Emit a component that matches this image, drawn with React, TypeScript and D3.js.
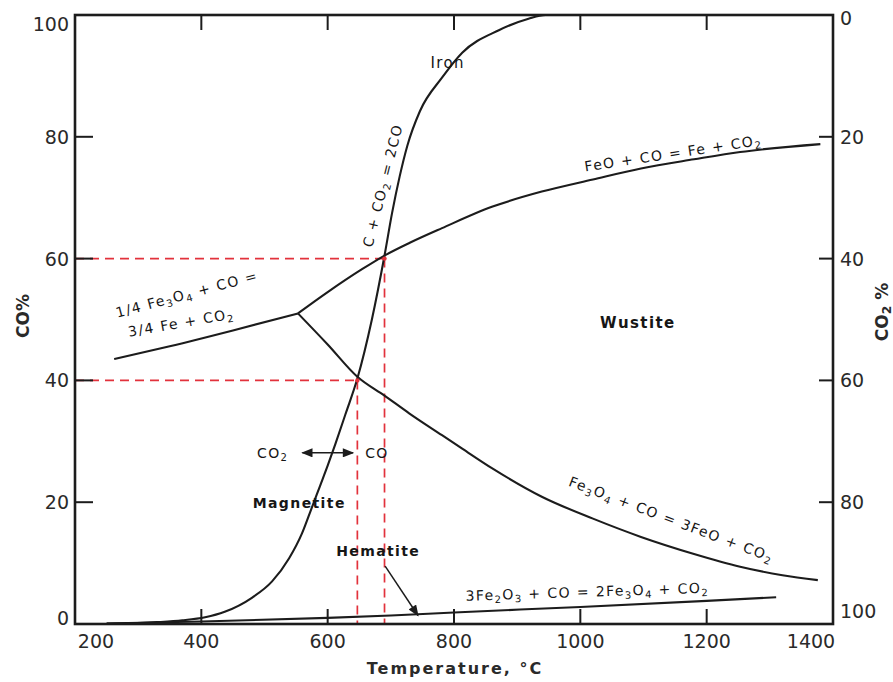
import React from "react";
import * as d3 from "d3";

// Temperature (°C) ticks and CO / CO2 percent ticks
const tempTicks = [200, 400, 600, 800, 1000, 1200, 1400];
const coTicks = [0, 20, 40, 60, 80, 100];
const co2Ticks = [0, 20, 40, 60, 80, 100];

// boundary curves, [temperature, CO %]
const boudouard: [number, number][] = [
  [255, 0], [330, 0.3], [370, 0.6], [406, 1.1], [437, 2.0], [480, 4.3], [512, 7.0], [539, 10.8],
  [559, 14.8], [572, 18.3], [588, 22.7], [600, 26], [612, 29.5], [628, 34.4], [647, 40.3], [670, 50],
  [690, 60.5], [702, 67.5], [714, 73.5], [726, 78.5], [746, 84.2], [781, 89.7], [813, 93.8],
  [871, 97.5], [918, 99.4], [945, 100], [1000, 100],
];
const feoToFe: [number, number][] = [
  [553, 51], [600, 54.5], [655, 58.3], [690, 60.5], [730, 62.6], [781, 65], [860, 68.5],
  [939, 71], [1020, 73], [1096, 74.8], [1180, 76.3], [1253, 77.5], [1380, 78.8],
];
const fe3o4ToFe: [number, number][] = [
  [262, 43.5], [350, 45.6], [450, 48.2], [553, 51],
];
const fe3o4ToFeo: [number, number][] = [
  [553, 51], [600, 45.9], [647, 40.6], [690, 37.5], [729, 34.6], [781, 31], [813, 28.8],
  [860, 25.6], [939, 20.9], [1020, 17.3], [1096, 14.3], [1180, 11.5], [1253, 9.4], [1320, 8], [1376, 7.2],
];
const fe2o3ToFe3o4: [number, number][] = [
  [250, 0.1], [400, 0.4], [600, 1], [700, 1.4], [800, 1.9], [1000, 2.8], [1200, 3.8], [1310, 4.4],
];

// red reference points read on the Boudouard curve
const refPoints = [
  { t: 647, co: 40 },
  { t: 690, co: 60 },
];

// text annotations (position in data units, rotation in degrees)
const notes = [
  { text: "Iron", t: 790, co: 92.2, rot: 0, size: 15, bold: false },
  { text: "C + CO_2 = 2CO", t: 687, co: 72, rot: -76, size: 14, bold: false },
  { text: "FeO + CO = Fe + CO_2", t: 1147, co: 77.3, rot: -8.6, size: 14, bold: false },
  { text: "1/4 Fe_3O_4 + CO =", t: 377, co: 54.2, rot: -15, size: 14, bold: false },
  { text: "3/4 Fe + CO_2", t: 368, co: 49.5, rot: -10, size: 14, bold: false },
  { text: "Wustite", t: 1091, co: 49.4, rot: 0, size: 15, bold: true },
  { text: "CO_2", t: 513, co: 28.1, rot: 0, size: 14, bold: false },
  { text: "CO", t: 678, co: 28.1, rot: 0, size: 14, bold: false },
  { text: "Magnetite", t: 555, co: 19.9, rot: 0, size: 14, bold: true },
  { text: "Hematite", t: 680, co: 12, rot: 0, size: 14, bold: true },
  { text: "Fe_3O_4 + CO = 3FeO + CO_2", t: 1144, co: 17.2, rot: 20.7, size: 14, bold: false },
  { text: "3Fe_2O_3 + CO = 2Fe_3O_4 + CO_2", t: 1011, co: 5.3, rot: -1.9, size: 14, bold: false },
];

const W = 893;
const H = 682;
const ink = "#1c1c1c";
const red = "#e2323c";

const chem = (s: string, fs: number) => {
  const parts = s.split(/_(\d)/);
  const out: React.ReactNode[] = [];
  let shifted = false;
  parts.forEach((p, i) => {
    if (i % 2 === 1) {
      out.push(
        <tspan key={i} dy={fs * 0.3} fontSize={fs * 0.72}>
          {p}
        </tspan>
      );
      shifted = true;
    } else if (p) {
      out.push(
        <tspan key={i} dy={shifted ? -fs * 0.3 : 0}>
          {p}
        </tspan>
      );
      shifted = false;
    }
  });
  return out;
};

const App = () => {
  const x = d3.scaleLinear().domain([200, 1400]).range([75, 833]);
  const y = d3.scaleLinear().domain([0, 100]).range([624, 15]);
  const y2 = d3.scaleLinear().domain([0, 100]).range([15, 624]);

  const line = d3
    .line<[number, number]>()
    .x((d) => x(d[0]))
    .y((d) => y(d[1]))
    .curve(d3.curveMonotoneX);

  const curves = [boudouard, feoToFe, fe3o4ToFe, fe3o4ToFeo, fe2o3ToFe3o4];

  const [x0, x1] = x.range();
  const [yb, yt] = y.range();

  return (
    <svg
      width={W}
      height={H}
      style={{ position: "absolute", left: 0, top: 0, background: "#fff" }}
      fontFamily="DejaVu Sans, sans-serif"
    >
      <defs>
        <marker id="arr" viewBox="0 0 10 8" refX="9" refY="4" markerWidth="8" markerHeight="6" orient="auto-start-reverse">
          <path d="M0,0 L10,4 L0,8 z" fill={ink} />
        </marker>
      </defs>

      {/* red reference lines */}
      {refPoints.map((p, i) => (
        <g key={i} stroke={red} strokeWidth={1.7} strokeDasharray="9 6" fill="none">
          <line x1={x0} x2={x(p.t)} y1={y(p.co)} y2={y(p.co)} />
          <line x1={x(p.t)} x2={x(p.t)} y1={y(p.co)} y2={yb} />
        </g>
      ))}

      {/* curves */}
      {curves.map((c, i) => (
        <path key={i} d={line(c) || ""} fill="none" stroke={ink} strokeWidth={2.1} />
      ))}
      {refPoints.map((p, i) => (
        <circle key={i} cx={x(p.t)} cy={y(p.co)} r={2.2} fill={red} />
      ))}

      {/* frame */}
      <rect x={x0} y={yt} width={x1 - x0} height={yb - yt} fill="none" stroke={ink} strokeWidth={2.6} />

      {/* ticks */}
      {tempTicks.slice(1, -1).map((t) => (
        <g key={t} stroke={ink} strokeWidth={2}>
          <line x1={x(t)} x2={x(t)} y1={yb} y2={yb - 15} />
          <line x1={x(t)} x2={x(t)} y1={yt} y2={yt + 15} />
        </g>
      ))}
      {coTicks.slice(1, -1).map((v) => (
        <line key={v} x1={x0} x2={x0 + 18} y1={y(v)} y2={y(v)} stroke={ink} strokeWidth={2} />
      ))}
      {co2Ticks.slice(1, -1).map((v) => (
        <line key={v} x1={x1} x2={x1 - 14} y1={y2(v)} y2={y2(v)} stroke={ink} strokeWidth={2} />
      ))}

      {/* tick labels */}
      <g fontSize={19} fill="#2a2a2a">
        {tempTicks.map((t, i) => (
          <text
            key={t}
            x={x(t) + (i === 0 ? 21 : i === tempTicks.length - 1 ? -22 : 0)}
            y={648}
            textAnchor="middle"
          >
            {t}
          </text>
        ))}
        {coTicks.map((v, i) => (
          <text
            key={v}
            x={69}
            y={y(v) + (i === 0 ? -6 : i === coTicks.length - 1 ? 9 : 0)}
            textAnchor="end"
            dominantBaseline="central"
          >
            {v}
          </text>
        ))}
        {co2Ticks.map((v, i) => (
          <text
            key={v}
            x={840}
            y={y2(v) + (i === 0 ? 3 : i === co2Ticks.length - 1 ? -13 : 0)}
            textAnchor="start"
            dominantBaseline="central"
          >
            {v}
          </text>
        ))}
      </g>

      {/* axis titles */}
      <text
        transform="translate(23,316) rotate(-90)"
        textAnchor="middle"
        dominantBaseline="central"
        fontSize={17}
        fontWeight="bold"
        fill="#2a2a2a"
      >
        CO%
      </text>
      <text
        transform="translate(882,312) rotate(-90)"
        textAnchor="middle"
        dominantBaseline="central"
        fontSize={17}
        fontWeight="bold"
        fill="#2a2a2a"
      >
        {chem("CO_2 %", 17)}
      </text>
      <text x={455} y={674} textAnchor="middle" fontSize={16} fontWeight="bold" letterSpacing={2} fill="#2a2a2a">
        Temperature, °C
      </text>

      {/* annotations */}
      {notes.map((n, i) => (
        <text
          key={i}
          transform={`translate(${x(n.t)},${y(n.co)}) rotate(${n.rot})`}
          textAnchor="middle"
          dominantBaseline="central"
          fontSize={n.size}
          fontWeight={n.bold ? "bold" : "normal"}
          letterSpacing={1.4}
          fill="#161616"
        >
          {chem(n.text, n.size)}
        </text>
      ))}

      {/* CO2 <-> CO arrow */}
      <line
        x1={x(560)}
        x2={x(640)}
        y1={y(28.1)}
        y2={y(28.1)}
        stroke={ink}
        strokeWidth={1.5}
        markerStart="url(#arr)"
        markerEnd="url(#arr)"
      />
      {/* hematite pointer */}
      <line
        x1={x(691)}
        y1={y(9.5)}
        x2={x(743)}
        y2={y(1.4)}
        stroke={ink}
        strokeWidth={1.5}
        markerEnd="url(#arr)"
      />
    </svg>
  );
};

export default App;
